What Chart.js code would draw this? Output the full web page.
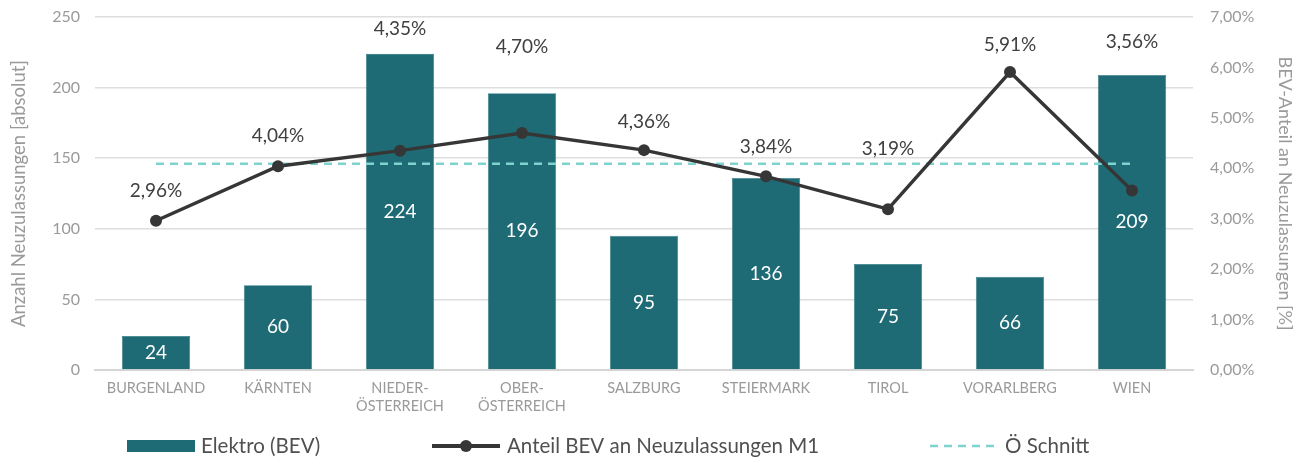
<!DOCTYPE html>
<html>
<head>
<meta charset="utf-8">
<script src="https://cdn.jsdelivr.net/npm/chart.js@4"></script>
<style>
  html,body{margin:0;padding:0;background:#fff;}
  #wrap{width:1303px;height:463px;}
</style>
</head>
<body>
<div id="wrap"><canvas id="chart"></canvas></div>
<script>
// ===== DATEN =====
let bundeslaender = ["BURGENLAND","KÄRNTEN",["NIEDER-","ÖSTERREICH"],["OBER-","ÖSTERREICH"],"SALZBURG","STEIERMARK","TIROL","VORARLBERG","WIEN"];
let elektroBev = [24,60,224,196,95,136,75,66,209];
let anteilBev = [2.96,4.04,4.35,4.70,4.36,3.84,3.19,5.91,3.56];
let oeSchnitt = [4.09,4.09,4.09,4.09,4.09,4.09,4.09,4.09,4.09];
let ticksAbsolut = [0,50,100,150,200,250];
let ticksProzent = [0,1,2,3,4,5,6,7];

// ===== STIL =====
const FONT = "Lato, 'Open Sans', sans-serif";
const BAR = "#1f6b75";
const LINIE = "#363636";
const SCHNITT = "#7fd3cf";
const GRAU = "#9a9a9a";
const UNSICHTBAR = "rgba(0,0,0,0)";
// Abstand der %-Labels über dem Punkt (px)
const pctLift = [30,30,122,86,28,29,60,27,149];

function pct(v){ return v.toFixed(2).replace(".",",") + "%"; }

// ===== LABELS + LEGENDE =====
const labelPlugin = {
  id:"labels",
  afterDatasetsDraw(chart){
    const ctx = chart.ctx;
    ctx.save();
    ctx.textAlign = "center";
    ctx.textBaseline = "middle";
    // Balkenwerte
    ctx.font = "19px " + FONT;
    ctx.fillStyle = "#ffffff";
    chart.getDatasetMeta(2).data.forEach((bar,i)=>{
      ctx.fillText(String(elektroBev[i]), bar.x, (bar.y + bar.base)/2);
    });
    // Prozentwerte
    ctx.fillStyle = "#404040";
    chart.getDatasetMeta(0).data.forEach((pt,i)=>{
      ctx.fillText(pct(anteilBev[i]), pt.x, pt.y - pctLift[i]);
    });
    ctx.restore();
  },
  afterDraw(chart){
    const ctx = chart.ctx;
    const y = 446;
    ctx.save();
    ctx.font = "20.5px " + FONT;
    ctx.textBaseline = "middle";
    ctx.textAlign = "left";
    // Elektro (BEV)
    ctx.fillStyle = BAR;
    ctx.fillRect(127, y-6, 68, 12);
    ctx.fillStyle = "#505050";
    ctx.fillText(chart.data.datasets[2].label, 201, y);
    // Anteil
    ctx.strokeStyle = LINIE;
    ctx.lineWidth = 4;
    ctx.beginPath(); ctx.moveTo(432,y); ctx.lineTo(500,y); ctx.stroke();
    ctx.fillStyle = LINIE;
    ctx.beginPath(); ctx.arc(466,y,6,0,Math.PI*2); ctx.fill();
    ctx.fillStyle = "#505050";
    ctx.fillText(chart.data.datasets[0].label, 507, y);
    // Schnitt
    ctx.strokeStyle = SCHNITT;
    ctx.lineWidth = 2.5;
    ctx.setLineDash([8,6]);
    ctx.beginPath(); ctx.moveTo(930,y); ctx.lineTo(998,y); ctx.stroke();
    ctx.setLineDash([]);
    ctx.fillText(chart.data.datasets[1].label, 1005, y);
    ctx.restore();
  }
};

// ===== DIAGRAMM =====
new Chart(document.getElementById("chart"), {
  type:"bar",
  data:{
    labels: bundeslaender,
    datasets:[
      { type:"line", label:"Anteil BEV an Neuzulassungen M1", data:anteilBev, yAxisID:"y1",
        borderColor:LINIE, backgroundColor:LINIE, borderWidth:3.5, pointRadius:6, pointHoverRadius:6,
        pointBackgroundColor:LINIE, pointBorderWidth:0, tension:0, order:0 },
      { type:"line", label:"Ö Schnitt", data:oeSchnitt, yAxisID:"y1",
        borderColor:SCHNITT, borderWidth:2.5, borderDash:[8,6], pointRadius:0, pointHoverRadius:0, order:1 },
      { type:"bar", label:"Elektro (BEV)", data:elektroBev, yAxisID:"y",
        backgroundColor:BAR, borderColor:"#2f7a83", borderWidth:0.6, borderSkipped:"bottom",
        categoryPercentage:1, barPercentage:0.56, order:2 }
    ]
  },
  options:{
    responsive:true,
    maintainAspectRatio:false,
    animation:false,
    layout:{ padding:{ top:17, bottom:0, left:0, right:0 } },
    plugins:{ legend:{ display:false }, tooltip:{ enabled:false } },
    scales:{
      x:{
        grid:{ display:false },
        border:{ color:"#d6d6d6", width:2 },
        ticks:{ color:GRAU, font:{ family:FONT, size:14.5 }, maxRotation:0, autoSkip:false, padding:2 },
        afterFit(s){ s.height = 93; }
      },
      y:{
        position:"left", min:0, max:250,
        afterBuildTicks(s){ s.ticks = ticksAbsolut.map(v=>({value:v})); },
        grid:{ color:"#dedede", lineWidth:1.5, drawTicks:true, tickLength:15, tickColor:UNSICHTBAR },
        border:{ display:false },
        ticks:{ color:GRAU, font:{ family:FONT, size:16 }, padding:0 },
        title:{ display:true, text:"Anzahl Neuzulassungen [absolut]", color:GRAU, font:{ family:FONT, size:18.5 }, padding:{top:8,bottom:0} },
        afterFit(s){ s.width = 95; }
      },
      y1:{
        position:"right", min:0, max:7,
        afterBuildTicks(s){ s.ticks = ticksProzent.map(v=>({value:v})); },
        grid:{ display:true, drawOnChartArea:false, drawTicks:true, tickLength:17, tickColor:UNSICHTBAR },
        border:{ display:false },
        ticks:{ color:GRAU, font:{ family:FONT, size:16 }, padding:0, callback:v=>pct(v) },
        title:{ display:true, text:"BEV-Anteil an Neuzulassungen [%]", color:GRAU, font:{ family:FONT, size:18 }, padding:{top:7,bottom:0} },
        afterFit(s){ s.width = 110; }
      }
    }
  },
  plugins:[labelPlugin]
});
</script>
</body>
</html>
